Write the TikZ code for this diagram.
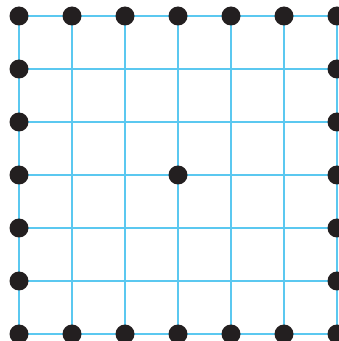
\documentclass[tikz,border=0pt]{standalone}
\definecolor{gridblue}{HTML}{5BC8F0}
\definecolor{dotblack}{HTML}{231F20}
\tikzset{
  gridline/.style={draw=gridblue, line width=1.3pt},
  dotnode/.style={circle, fill=dotblack, inner sep=0pt, minimum size=19pt}
}
\begin{document}
\begin{tikzpicture}[x=1pt,y=1pt]
\useasboundingbox (0,0) rectangle (339,341);
% grid coordinates: column i (0..6), row j (0..6, from top)
\foreach \i in {0,...,6}{
  \foreach \j in {0,...,6}{
    \coordinate (g-\i-\j) at ({19+53*\i},{341-16-53*\j});
  }
}
\foreach \k in {0,...,6}{
  \draw[gridline] (g-0-\k) -- (g-6-\k);
  \draw[gridline] (g-\k-0) -- (g-\k-6);
}
% border dots
\foreach \k in {0,...,6}{
  \node[dotnode] (top-\k) at (g-\k-0) {};
  \node[dotnode] (bot-\k) at (g-\k-6) {};
}
\foreach \k in {1,...,5}{
  \node[dotnode] (left-\k) at (g-0-\k) {};
  \node[dotnode] (right-\k) at (g-6-\k) {};
}
\node[dotnode] (center) at (g-3-3) {};
\end{tikzpicture}
\end{document}
